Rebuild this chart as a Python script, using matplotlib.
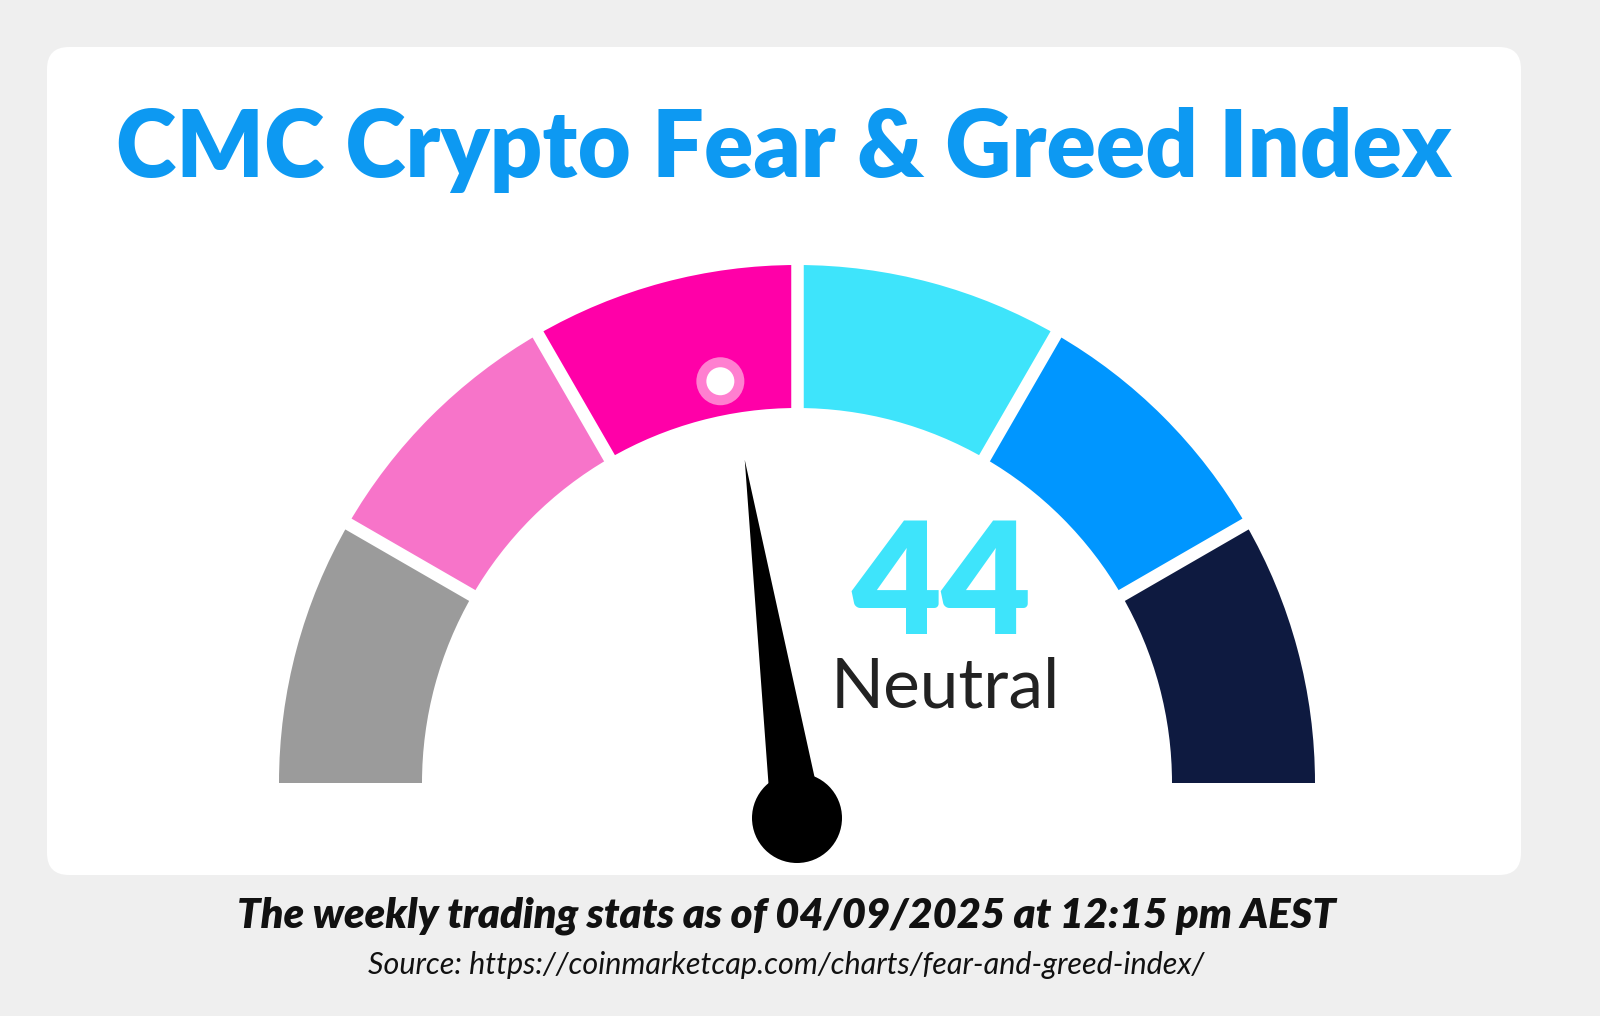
import numpy as np
import matplotlib
matplotlib.use("Agg")
import matplotlib.pyplot as plt
from matplotlib.patches import Wedge, Circle, Polygon, FancyBboxPatch

title = "CMC Crypto Fear & Greed Index"
value = 44
label = "Neutral"
seg_colors = ["#9B9B9B", "#F774C9", "#FF00A8", "#3EE4FB", "#0096FF", "#0E1A40"]
footer = "The weekly trading stats as of 04/09/2025 at 12:15 pm AEST"
source = "Source: https://coinmarketcap.com/charts/fear-and-greed-index/"

fig = plt.figure(figsize=(16, 10.16), dpi=100)
fig.patch.set_facecolor("#EFEFEF")
ax = fig.add_axes([0, 0, 1, 1])
ax.set_xlim(0, 1600); ax.set_ylim(0, 1016); ax.axis("off")

ax.add_patch(FancyBboxPatch((47, 141), 1474, 828, boxstyle="round,pad=0,rounding_size=22",
                            fc="white", ec="none"))
cx, cy = 797, 233
R, r = 518, 375
n = len(seg_colors)
for i, c in enumerate(seg_colors):
    a0 = 180 - (i + 1) * 180 / n
    a1 = 180 - i * 180 / n
    ax.add_patch(Wedge((cx, cy), R, a0, a1, width=R - r, fc=c, ec="none"))
for i in range(1, n):
    a = np.radians(180 - i * 180 / n)
    ax.plot([cx + (r - 5) * np.cos(a), cx + (R + 5) * np.cos(a)],
            [cy + (r - 5) * np.sin(a), cy + (R + 5) * np.sin(a)], color="white", lw=9, solid_capstyle="butt")

ang = np.radians(180 - value / 100 * 180)
mr = 409
ax.add_patch(Circle((cx + mr * np.cos(ang), cy + mr * np.sin(ang)), 24, fc="#FF7FD0", ec="none"))
ax.add_patch(Circle((cx + mr * np.cos(ang), cy + mr * np.sin(ang)), 14, fc="white", ec="none"))

px, py = 797, 198
L = 362
nang = np.radians(180 - value / 100 * 180 - 2.5)
tip = (px + L * np.cos(nang), py + L * np.sin(nang))
perp = nang + np.pi / 2
w = 26
base1 = (px + w * np.cos(perp), py + w * np.sin(perp))
base2 = (px - w * np.cos(perp), py - w * np.sin(perp))
ax.add_patch(Polygon([tip, base1, base2], closed=True, fc="black", ec="none"))
ax.add_patch(Circle((px, py), 45, fc="black", ec="none"))

ax.text(784, 866, title, ha="center", va="center", fontsize=66, fontweight="heavy",
        color="#0D99F2", family="Lato")
ax.text(942, 428, str(value), ha="center", va="center", fontsize=112, fontweight="heavy",
        color="#3EE4FB", family="Lato")
ax.text(945, 328, label, ha="center", va="center", fontsize=50, color="#222222", family="Lato")
ax.text(786, 100, footer, ha="center", va="center", fontsize=30, fontweight="heavy",
        style="italic", color="#111111", family="Lato")
ax.text(786, 51, source, ha="center", va="center", fontsize=22, style="italic",
        color="#111111", family="Lato")
fig.savefig("out.png", dpi=100, facecolor=fig.get_facecolor())
